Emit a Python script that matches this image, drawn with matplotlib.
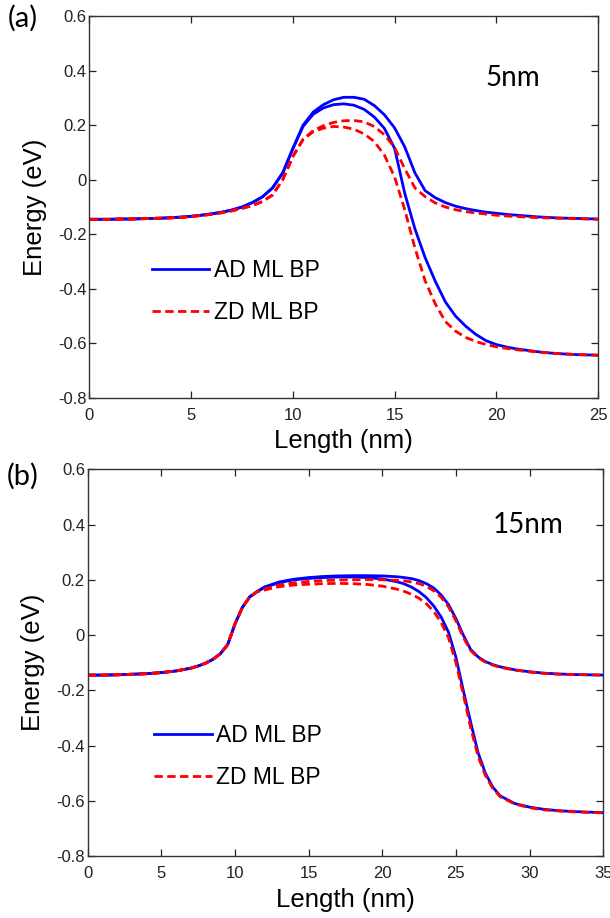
import matplotlib
matplotlib.use("Agg")
import matplotlib.pyplot as plt
from matplotlib.ticker import FuncFormatter

plt.rcParams['font.family'] = ['Liberation Sans', 'DejaVu Sans']
plt.rcParams['axes.unicode_minus'] = False

# ---- panel (a): 5 nm channel ----
xa = [0, 0.5, 1, 1.5, 2, 2.5, 3, 3.5, 4, 4.5, 5, 5.5, 6, 6.5, 7, 7.5, 8, 8.5, 9, 9.5,
      10, 10.5, 11, 11.5, 12, 12.5, 13, 13.5, 14, 14.5, 15, 15.5, 16, 16.5, 17, 17.5,
      18, 18.5, 19, 19.5, 20, 20.5, 21, 21.5, 22, 22.5, 23, 23.5, 24, 24.5, 25]

ad_a_0 = [-0.145, -0.145, -0.145, -0.144, -0.144, -0.143, -0.142, -0.141, -0.139, -0.137,
          -0.134, -0.130, -0.125, -0.119, -0.111, -0.100, -0.084, -0.063, -0.030, 0.025,
          0.115, 0.200, 0.248, 0.275, 0.293, 0.302, 0.302, 0.295, 0.272, 0.238,
          0.190, 0.120, 0.025, -0.040, -0.066, -0.084, -0.097, -0.106, -0.113, -0.119,
          -0.123, -0.127, -0.130, -0.133, -0.136, -0.138, -0.140, -0.141, -0.142, -0.143, -0.144]
ad_a_1 = [-0.145, -0.145, -0.145, -0.144, -0.144, -0.143, -0.142, -0.141, -0.139, -0.137,
          -0.134, -0.130, -0.125, -0.119, -0.111, -0.100, -0.084, -0.063, -0.030, 0.025,
          0.113, 0.195, 0.240, 0.263, 0.275, 0.278, 0.273, 0.258, 0.230, 0.188,
          0.115, -0.050, -0.180, -0.285, -0.372, -0.448, -0.500, -0.537, -0.567, -0.590,
          -0.604, -0.613, -0.620, -0.625, -0.630, -0.634, -0.637, -0.639, -0.641, -0.642, -0.643]
zd_a_0 = [-0.145, -0.145, -0.145, -0.144, -0.144, -0.143, -0.142, -0.141, -0.140, -0.138,
          -0.135, -0.131, -0.127, -0.121, -0.114, -0.105, -0.095, -0.080, -0.056, 0.000,
          0.085, 0.148, 0.180, 0.198, 0.210, 0.216, 0.217, 0.212, 0.195, 0.165,
          0.118, 0.040, -0.030, -0.062, -0.085, -0.100, -0.110, -0.117, -0.122, -0.126,
          -0.130, -0.133, -0.135, -0.137, -0.139, -0.140, -0.141, -0.142, -0.143, -0.144, -0.145]
zd_a_1 = [-0.145, -0.145, -0.145, -0.144, -0.144, -0.143, -0.142, -0.141, -0.140, -0.138,
          -0.135, -0.131, -0.127, -0.121, -0.114, -0.105, -0.095, -0.080, -0.056, 0.000,
          0.085, 0.147, 0.176, 0.189, 0.195, 0.193, 0.185, 0.168, 0.140, 0.090,
          0.010, -0.110, -0.250, -0.370, -0.455, -0.520, -0.555, -0.578, -0.593, -0.604,
          -0.612, -0.618, -0.623, -0.627, -0.631, -0.634, -0.637, -0.639, -0.641, -0.642, -0.643]

# ---- panel (b): 15 nm channel ----
xb = [0, 1, 2, 3, 4, 5, 6, 7, 7.5, 8, 8.5, 9, 9.5, 10, 10.5, 11, 11.5,
      12, 13, 14, 15, 16, 17, 18, 19, 20, 21,
      21.5, 22, 22.5, 23, 23.5, 24, 24.5, 25, 25.5, 26, 26.5, 27, 27.5, 28,
      29, 30, 31, 32, 33, 34, 35]

rise_b = [-0.145, -0.145, -0.144, -0.142, -0.140, -0.136, -0.130, -0.120, -0.112, -0.102,
          -0.088, -0.068, -0.035, 0.040, 0.100, 0.138, 0.157]

ad_b_0 = rise_b + [0.174, 0.192, 0.202, 0.208, 0.212, 0.214, 0.215, 0.215, 0.214, 0.211,
                   0.208, 0.204, 0.197, 0.186, 0.170, 0.145, 0.110, 0.060, 0.000, -0.052,
                   -0.079, -0.096, -0.107, -0.115,
                   -0.126, -0.133, -0.138, -0.141, -0.143, -0.144, -0.145]
zd_b_0 = rise_b + [0.166, 0.181, 0.189, 0.194, 0.197, 0.199, 0.200, 0.201, 0.200, 0.198,
                   0.196, 0.192, 0.186, 0.176, 0.160, 0.137, 0.102, 0.052, -0.008, -0.056,
                   -0.082, -0.098, -0.109, -0.117,
                   -0.127, -0.134, -0.139, -0.142, -0.143, -0.144, -0.145]
ad_b_1 = rise_b + [0.172, 0.190, 0.200, 0.205, 0.208, 0.210, 0.210, 0.208, 0.203, 0.193,
                   0.185, 0.173, 0.157, 0.135, 0.105, 0.065, 0.010, -0.080, -0.200, -0.315,
                   -0.425, -0.500, -0.550, -0.582,
                   -0.610, -0.623, -0.631, -0.636, -0.639, -0.641, -0.643]
zd_b_1 = rise_b + [0.163, 0.175, 0.181, 0.184, 0.186, 0.187, 0.186, 0.183, 0.177, 0.166,
                   0.158, 0.147, 0.133, 0.113, 0.085, 0.045, -0.010, -0.100, -0.215, -0.335,
                   -0.438, -0.508, -0.555, -0.585,
                   -0.612, -0.625, -0.633, -0.637, -0.640, -0.642, -0.644]

labels = ['AD ML BP', 'ZD ML BP']
yticks = [-0.8, -0.6, -0.4, -0.2, 0, 0.2, 0.4, 0.6]

fig = plt.figure(figsize=(6.1, 9.18), dpi=100)
ax_a = fig.add_axes([0.1467, 0.5664, 0.8336, 0.4162])
ax_b = fig.add_axes([0.1438, 0.0675, 0.8450, 0.4213])

panels = [
    (ax_a, xa, [ad_a_0, ad_a_1], [zd_a_0, zd_a_1], 25, '5nm', (20.8, 0.373), (0.123, 0.279)),
    (ax_b, xb, [ad_b_0, ad_b_1], [zd_b_0, zd_b_1], 35, '15nm', (29.9, 0.40), (0.129, 0.257)),
]

for ax, x, ad, zd, xmax, tag, tag_pos, leg_pos in panels:
    # AD curves first, ZD dashed on top
    h_ad = None
    h_zd = None
    for y in ad:
        h_ad, = ax.plot(x, y, color='#0000ff', lw=2.0, solid_joinstyle='round')
    for y in zd:
        h_zd, = ax.plot(x, y, color='#ff0000', lw=2.0, linestyle=(0, (3.0, 1.6)))

    ax.set_xlim(0, xmax)
    ax.set_ylim(-0.8, 0.6)
    ax.set_xticks(list(range(0, xmax + 1, 5)))
    ax.set_yticks(yticks)
    ax.yaxis.set_major_formatter(FuncFormatter(lambda v, p: '%g' % round(v, 2)))
    ax.tick_params(direction='in', top=True, right=True, length=5, width=0.9,
                   labelsize=12, colors='#222222')
    ax.tick_params(axis='x', pad=7)
    ax.tick_params(axis='y', pad=2)
    for s in ax.spines.values():
        s.set_linewidth(1.0)
        s.set_color('#333333')

    ax.set_xlabel('Length (nm)', fontsize=18.5, va='top')
    ax.xaxis.set_label_coords(0.5, -0.082)
    ax.set_ylabel('Energy (eV)', fontsize=18.5)
    ax.yaxis.set_label_coords(-0.083, 0.5)

    ax.text(tag_pos[0], tag_pos[1], tag, fontsize=20, family=['Lato', 'DejaVu Sans'],
            ha='center', va='center')

    ax.legend([h_ad, h_zd], labels, loc='center left', bbox_to_anchor=leg_pos,
              frameon=False, fontsize=16.5, handlelength=2.5, handletextpad=0.2,
              labelspacing=0.8, borderpad=0, borderaxespad=0)

fig.text(0.013, 0.980, '(a)', fontsize=21, family=['Lato', 'DejaVu Sans'], ha='left', va='center')
fig.text(0.011, 0.4815, '(b)', fontsize=21, family=['Lato', 'DejaVu Sans'], ha='left', va='center')

fig.savefig('out.png', dpi=100)
